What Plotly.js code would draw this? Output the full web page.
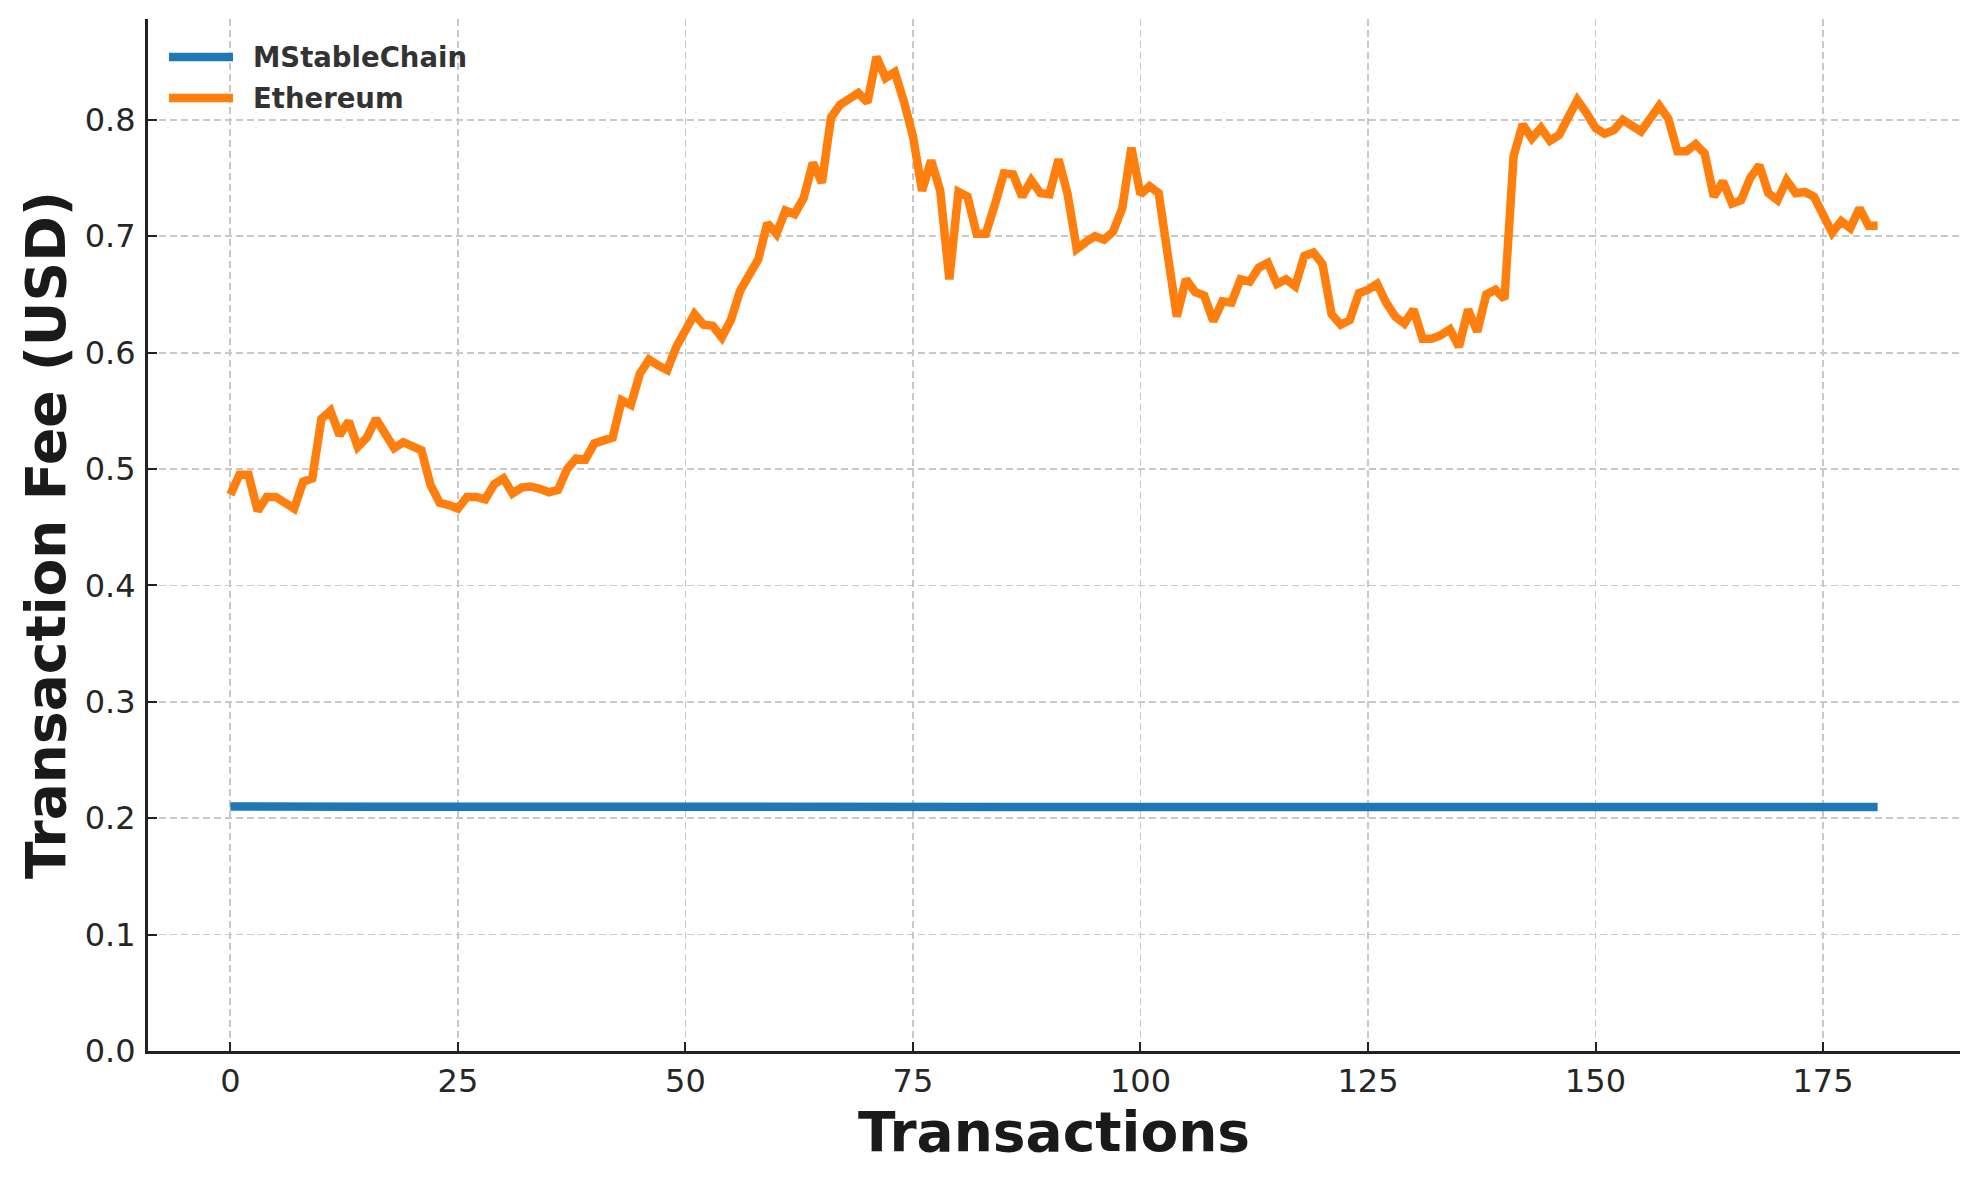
<!DOCTYPE html>
<html>
<head>
<meta charset="utf-8">
<script src="https://cdn.plot.ly/plotly-3.0.1.min.js"></script>
<style>
  html, body { margin: 0; padding: 0; background: #ffffff; }
  #chart { width: 1979px; height: 1180px; }
</style>
</head>
<body>
<div id="chart"></div>
<script>
// ---- Data ----
const seriesNames = ["MStableChain", "Ethereum"];

const mstableFee = [
  0.2100,0.2101,0.2100,0.2101,0.2101,0.2100,0.2101,0.2100,0.2100,0.2099,
  0.2099,0.2100,0.2099,0.2099,0.2098,0.2099,0.2099,0.2098,0.2098,0.2098,
  0.2098,0.2097,0.2098,0.2098,0.2097,0.2098,0.2099,0.2099,0.2099,0.2099,
  0.2099,0.2099,0.2099,0.2098,0.2098,0.2098,0.2098,0.2099,0.2099,0.2099,
  0.2100,0.2100,0.2099,0.2100,0.2100,0.2100,0.2101,0.2101,0.2100,0.2100,
  0.2100,0.2100,0.2099,0.2099,0.2099,0.2099,0.2100,0.2100,0.2100,0.2101,
  0.2101,0.2100,0.2100,0.2101,0.2101,0.2100,0.2101,0.2101,0.2102,0.2102,
  0.2101,0.2100,0.2100,0.2100,0.2099,0.2099,0.2099,0.2099,0.2099,0.2099,
  0.2099,0.2099,0.2100,0.2100,0.2100,0.2099,0.2099,0.2099,0.2099,0.2100,
  0.2100,0.2100,0.2100,0.2099,0.2099,0.2099,0.2099,0.2099,0.2099,0.2100,
  0.2100,0.2100,0.2100,0.2101,0.2101,0.2100,0.2100,0.2099,0.2100,0.2100,
  0.2100,0.2099,0.2099,0.2099,0.2098,0.2099,0.2099,0.2098,0.2098,0.2098,
  0.2098,0.2098,0.2097,0.2098,0.2098,0.2099,0.2099,0.2098,0.2098,0.2098,
  0.2098,0.2098,0.2098,0.2099,0.2099,0.2099,0.2099,0.2099,0.2099,0.2099,
  0.2099,0.2099,0.2099,0.2098,0.2099,0.2099,0.2099,0.2099,0.2098,0.2098,
  0.2098,0.2098,0.2099,0.2099,0.2099,0.2099,0.2098,0.2099,0.2099,0.2099,
  0.2099,0.2099,0.2099,0.2099,0.2099,0.2099,0.2099,0.2098,0.2099,0.2099,
  0.2099,0.2099,0.2099,0.2099,0.2099,0.2099,0.2099,0.2099,0.2099,0.2098,
  0.2097,0.2096
];

const ethereumFee = [
  0.478,0.495,0.495,0.464,0.476,0.476,0.471,0.466,0.489,0.492,
  0.543,0.550,0.529,0.541,0.519,0.527,0.543,0.531,0.518,0.523,
  0.519,0.516,0.486,0.471,0.469,0.466,0.476,0.476,0.474,0.487,
  0.492,0.479,0.484,0.485,0.483,0.480,0.482,0.500,0.509,0.508,
  0.522,0.525,0.527,0.559,0.555,0.582,0.594,0.589,0.585,0.605,
  0.618,0.633,0.624,0.623,0.613,0.628,0.653,0.667,0.680,0.711,
  0.702,0.722,0.719,0.733,0.763,0.746,0.802,0.813,0.817,0.823,
  0.815,0.854,0.836,0.841,0.816,0.786,0.739,0.765,0.739,0.663,
  0.738,0.734,0.702,0.702,0.727,0.754,0.753,0.734,0.748,0.737,
  0.736,0.766,0.736,0.689,0.695,0.700,0.697,0.704,0.724,0.776,
  0.736,0.743,0.737,0.686,0.631,0.663,0.652,0.649,0.627,0.644,
  0.643,0.663,0.661,0.673,0.677,0.659,0.663,0.657,0.683,0.686,
  0.676,0.633,0.624,0.628,0.651,0.654,0.659,0.643,0.631,0.625,
  0.637,0.612,0.612,0.615,0.620,0.605,0.637,0.618,0.650,0.654,
  0.646,0.769,0.796,0.784,0.793,0.782,0.787,0.802,0.817,0.806,
  0.793,0.788,0.791,0.800,0.794,0.790,0.801,0.812,0.801,0.773,
  0.773,0.779,0.771,0.734,0.747,0.728,0.731,0.750,0.761,0.737,
  0.731,0.748,0.737,0.738,0.734,0.720,0.703,0.713,0.707,0.724,
  0.709,0.709
];

const xTickVals = [0, 25, 50, 75, 100, 125, 150, 175];
const yTickVals = [0.0, 0.1, 0.2, 0.3, 0.4, 0.5, 0.6, 0.7, 0.8];

const xTitle = "Transactions";
const yTitle = "Transaction Fee (USD)";

// ---- Styling ----
const FONT = "DejaVu Sans, Liberation Sans, sans-serif";
const colors = ["#1f77b4", "#ff7f0e"];
const LW = 8.5;

const traces = [
  {
    type: "scatter", mode: "lines", name: seriesNames[0],
    y: mstableFee, x0: 0, dx: 1,
    line: { color: colors[0], width: LW }
  },
  {
    type: "scatter", mode: "lines", name: seriesNames[1],
    y: ethereumFee, x0: 0, dx: 1,
    line: { color: colors[1], width: LW }
  }
];

// Legend drawn in the upper-left corner (matplotlib style, no frame)
const legendLineX = [0.0116, 0.0469];
const legendTextX = 0.0568;
const legendRowY = [0.9632, 0.9234];
const legendShapes = seriesNames.map((n, i) => ({
  type: "line", xref: "paper", yref: "paper",
  x0: legendLineX[0], x1: legendLineX[1], y0: legendRowY[i], y1: legendRowY[i],
  line: { color: colors[i], width: LW }
}));
const legendLabels = seriesNames.map((n, i) => ({
  xref: "paper", yref: "paper", x: legendTextX, y: legendRowY[i],
  xanchor: "left", yanchor: "middle", showarrow: false, text: n,
  font: { family: FONT, size: 27.5, color: "#333333", weight: "bold" }
}));

const axisCommon = {
  showline: true, linecolor: "#222222", linewidth: 3,
  ticks: "inside", ticklen: 9, tickwidth: 2, tickcolor: "#222222",
  showgrid: true, gridcolor: "#c8c8c8", gridwidth: 1.8, griddash: "7px,4px",
  zeroline: false, mirror: false,
  tickfont: { family: FONT, size: 32, color: "#262626" }
};

const layout = {
  width: 1979, height: 1180,
  paper_bgcolor: "#ffffff", plot_bgcolor: "#ffffff",
  margin: { l: 148, r: 19, t: 19, b: 129 },
  showlegend: false,
  shapes: legendShapes,
  annotations: legendLabels,
  xaxis: Object.assign({}, axisCommon, {
    range: [-9.05, 190.05],
    tickvals: xTickVals,
    ticktext: xTickVals.map(String),
    ticklabelstandoff: 0,
    title: { text: xTitle, standoff: 8,
             font: { family: FONT, size: 55, color: "#1a1a1a", weight: "bold" } }
  }),
  yaxis: Object.assign({}, axisCommon, {
    range: [0, 0.8866],
    tickvals: yTickVals,
    ticktext: yTickVals.map(v => v.toFixed(1)),
    ticklabelstandoff: 3,
    title: { text: yTitle, standoff: 2,
             font: { family: FONT, size: 55, color: "#1a1a1a", weight: "bold" } }
  })
};

Plotly.newPlot("chart", traces, layout, { staticPlot: true, displayModeBar: false });
</script>
</body>
</html>
